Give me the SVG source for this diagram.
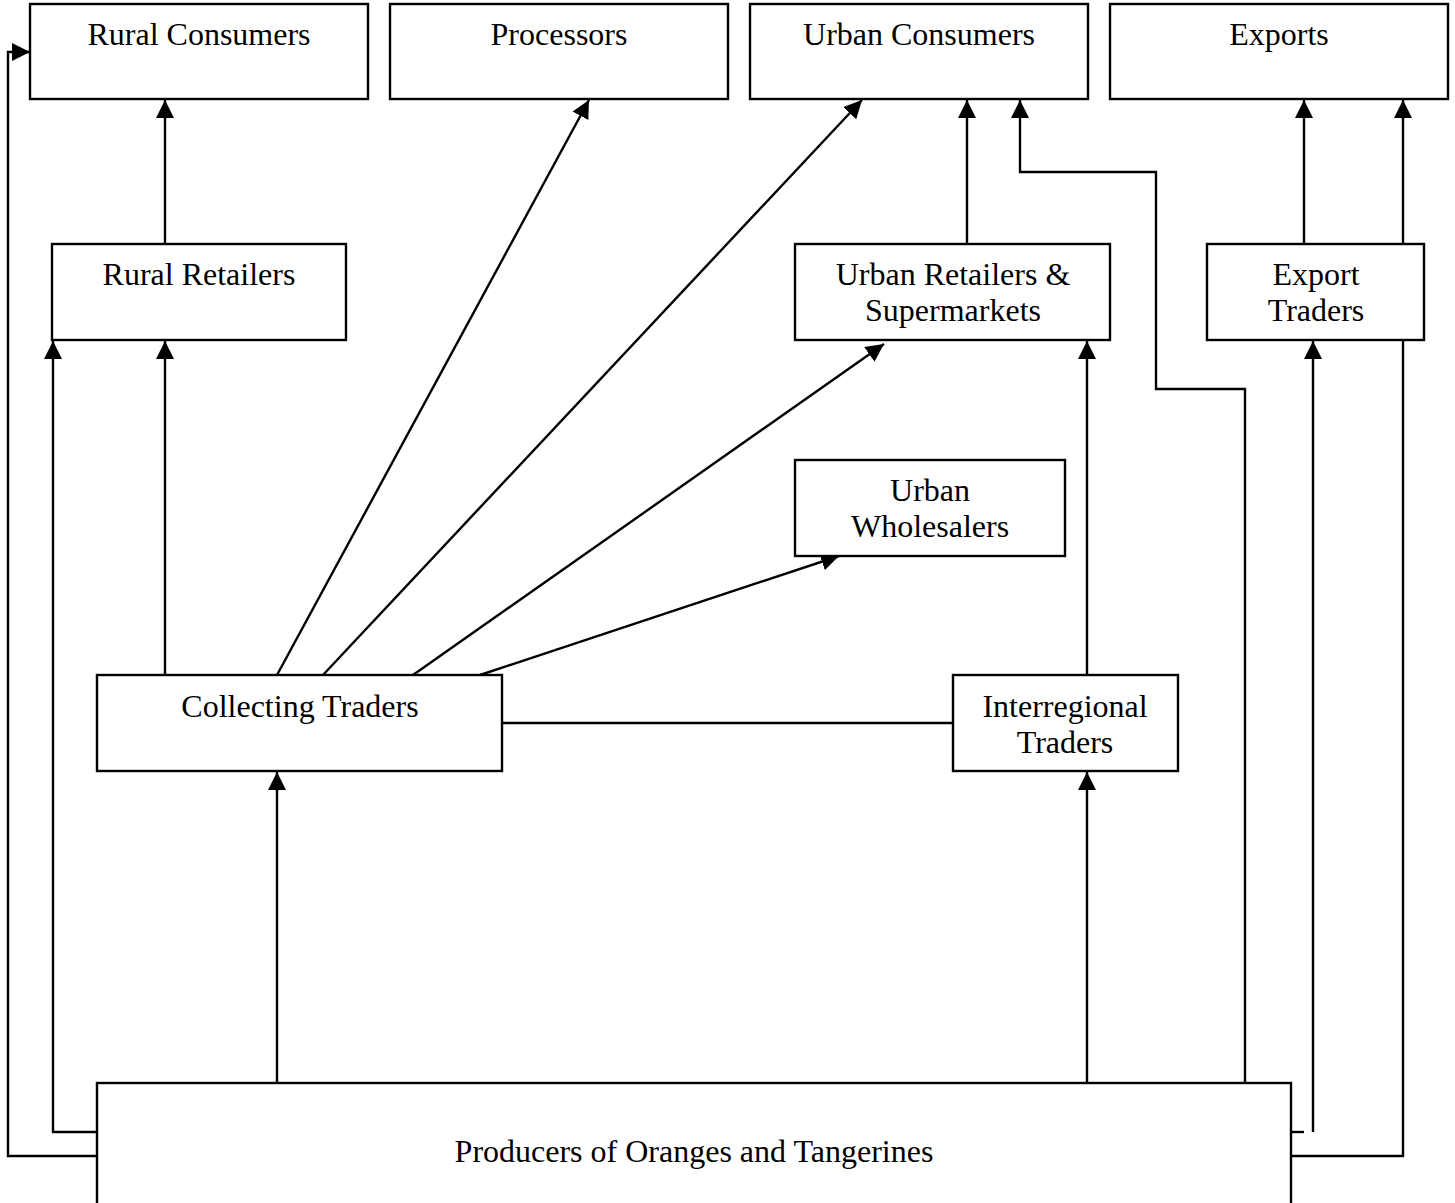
<svg xmlns="http://www.w3.org/2000/svg" width="1455" height="1203" viewBox="0 0 1455 1203">
<style>
.box{fill:#fff;stroke:#000;stroke-width:2.4}
.ln{fill:none;stroke:#000;stroke-width:2.4}
.ar{marker-end:url(#ah)}
text{font-family:"Liberation Serif","Times New Roman",serif;font-size:32px;fill:#000;text-anchor:middle}
</style>
<defs>
<marker id="ah" markerUnits="userSpaceOnUse" markerWidth="20" markerHeight="20" refX="18" refY="9" orient="auto">
<path d="M0,0 L18,9 L0,18 z" fill="#000"/>
</marker>
</defs>
<rect width="1455" height="1203" fill="#fff"/>
<g id="connectors">
<path class="ln ar" d="M97,1156 H8 V52 H30"/>
<path class="ln ar" d="M97,1132 H53 V341"/>
<path class="ln ar" d="M165,675 V341"/>
<path class="ln ar" d="M165,244 V100"/>
<path class="ln ar" d="M277,1083 V772"/>
<path class="ln ar" d="M1087,1083 V772"/>
<path class="ln ar" d="M1087,675 V341"/>
<path class="ln ar" d="M967,244 V100"/>
<path class="ln" d="M502,723 H953"/>
<path class="ln ar" d="M277,675 L589,100"/>
<path class="ln ar" d="M323,675 L862,100"/>
<path class="ln ar" d="M413,675 L884,344"/>
<path class="ln ar" d="M480,675 L839,556"/>
<path class="ln ar" d="M1245,1083 V389 H1156 V172 H1020 V100"/>
<path class="ln" d="M1291,1132 H1304"/>
<path class="ln ar" d="M1313,1132 V341"/>
<path class="ln ar" d="M1291,1156 H1403 V100"/>
<path class="ln ar" d="M1304,244 V100"/>
</g>
<g id="rural-consumers"><rect class="box" x="30" y="4" width="338" height="95"/><text x="199" y="45">Rural Consumers</text></g>
<g id="processors"><rect class="box" x="390" y="4" width="338" height="95"/><text x="559" y="45">Processors</text></g>
<g id="urban-consumers"><rect class="box" x="750" y="4" width="338" height="95"/><text x="919" y="45">Urban Consumers</text></g>
<g id="exports"><rect class="box" x="1110" y="4" width="338" height="95"/><text x="1279" y="45">Exports</text></g>
<g id="rural-retailers"><rect class="box" x="52" y="244" width="294" height="96"/><text x="199" y="285">Rural Retailers</text></g>
<g id="urban-retailers"><rect class="box" x="795" y="244" width="315" height="96"/><text x="953" y="285">Urban Retailers &amp;</text><text x="953" y="321">Supermarkets</text></g>
<g id="export-traders"><rect class="box" x="1207" y="244" width="217" height="96"/><text x="1316" y="285">Export</text><text x="1316" y="321">Traders</text></g>
<g id="urban-wholesalers"><rect class="box" x="795" y="460" width="270" height="96"/><text x="930" y="501">Urban</text><text x="930" y="537">Wholesalers</text></g>
<g id="collecting-traders"><rect class="box" x="97" y="675" width="405" height="96"/><text x="300" y="717">Collecting Traders</text></g>
<g id="interregional-traders"><rect class="box" x="953" y="675" width="225" height="96"/><text x="1065" y="717">Interregional</text><text x="1065" y="753">Traders</text></g>
<g id="producers"><rect class="box" x="97" y="1083" width="1194" height="140"/><text x="694" y="1162">Producers of Oranges and Tangerines</text></g>
</svg>
